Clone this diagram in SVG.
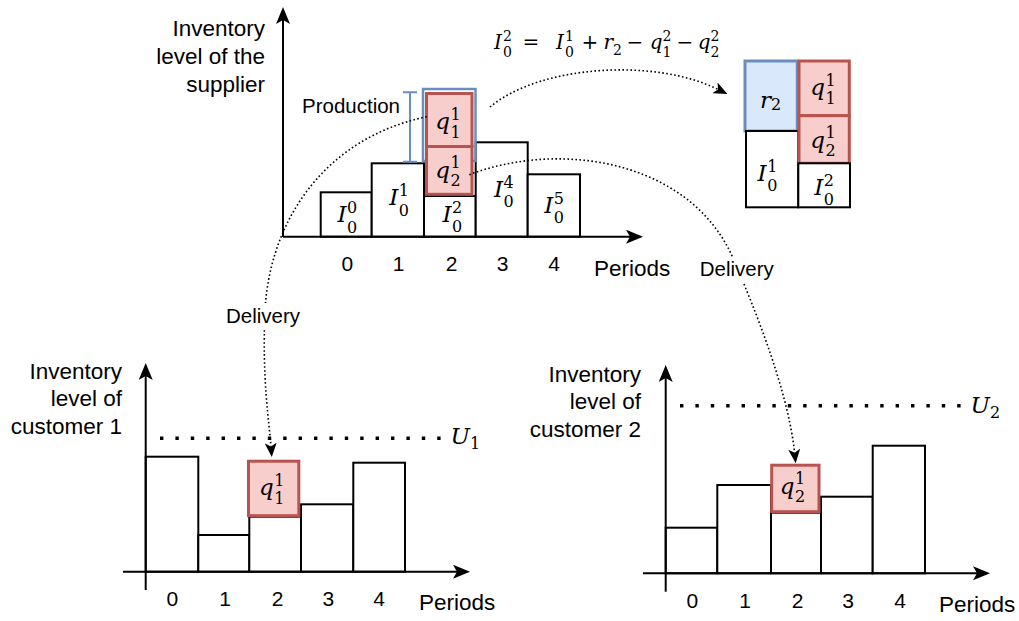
<svg xmlns="http://www.w3.org/2000/svg" width="1019" height="621" viewBox="0 0 1019 621">
<style>
.bar{fill:#fff;stroke:#000;stroke-width:2}
.red{fill:#f8cecc;stroke:#b85450;stroke-width:3}
.blue{fill:#dae8fc;stroke:#6c8ebf;stroke-width:3}
.ax{fill:none;stroke:#000;stroke-width:2}
.dot{fill:none;stroke:#000;stroke-width:1.6;stroke-dasharray:1.6 2.4}
.lim{fill:none;stroke:#000;stroke-width:3.4;stroke-dasharray:3.4 12}
.lbl{font-family:"Liberation Sans",Arial,sans-serif;font-size:22.5px;fill:#000}
.tick{font-family:"Liberation Sans",Arial,sans-serif;font-size:21px;fill:#000;text-anchor:middle}
.sm{font-family:"Liberation Sans",Arial,sans-serif;font-size:20.5px;fill:#000}
.mi{font-family:"DejaVu Serif",serif;font-style:italic;font-size:23px;fill:#000;text-anchor:end}
.ms{font-family:"DejaVu Serif",serif;font-size:16px;fill:#000}
.fi{font-family:"DejaVu Serif",serif;font-style:italic;font-size:20px;fill:#000;text-anchor:end}
.fo{font-family:"DejaVu Serif",serif;font-size:20px;fill:#000;text-anchor:middle}
.fs{font-family:"DejaVu Serif",serif;font-size:14px;fill:#000}
</style>
<defs>
<marker id="axh" markerUnits="userSpaceOnUse" viewBox="0 0 17 14" markerWidth="17" markerHeight="14" refX="4" refY="7" orient="auto"><path d="M0,0 L17,7 L0,14 L4,7 z" fill="#000"/></marker>
<marker id="arh" markerUnits="userSpaceOnUse" viewBox="0 0 14 12" markerWidth="14" markerHeight="12" refX="3.5" refY="6" orient="auto"><path d="M0,0 L14,6 L0,12 L3.5,6 z" fill="#000"/></marker>
</defs>

<!-- Supplier chart -->
<g id="supplier-label">
<text class="lbl" text-anchor="end" x="265" y="36">Inventory</text>
<text class="lbl" text-anchor="end" x="265" y="64">level of the</text>
<text class="lbl" text-anchor="end" x="265" y="92">supplier</text>
</g>
<g id="s-bar0"><rect class="bar" x="320.7" y="192.3" width="51" height="44.4"/>
<text class="mi" x="346.5" y="222">I</text><text class="ms" x="347" y="213">0</text><text class="ms" x="347" y="232.5">0</text></g>
<g id="s-bar1"><rect class="bar" x="371.7" y="163.3" width="52.3" height="73.4"/>
<text class="mi" x="398.3" y="205">I</text><text class="ms" x="398.8" y="196">1</text><text class="ms" x="398.8" y="215.5">0</text></g>
<g id="s-bar2"><rect class="bar" x="424" y="196" width="51.7" height="40.7"/>
<text class="mi" x="451.5" y="222">I</text><text class="ms" x="452" y="213">2</text><text class="ms" x="452" y="232">0</text></g>
<g id="s-bar3"><rect class="bar" x="475.7" y="142.3" width="52" height="94.4"/>
<text class="mi" x="503" y="196.7">I</text><text class="ms" x="503.5" y="187.7">4</text><text class="ms" x="503.5" y="207">0</text></g>
<g id="s-bar4"><rect class="bar" x="527.7" y="174.3" width="52.3" height="62.4"/>
<text class="mi" x="553.3" y="212.7">I</text><text class="ms" x="553.8" y="203.7">5</text><text class="ms" x="553.8" y="223">0</text></g>
<g id="s-production-box"><rect x="423" y="89" width="52.5" height="72" fill="none" stroke="#6c8ebf" stroke-width="2.5"/></g>
<g id="s-q1"><rect class="red" x="426.5" y="93.5" width="45.5" height="53"/>
<text class="mi" x="450" y="129">q</text><text class="ms" x="450.5" y="119.5">1</text><text class="ms" x="450.5" y="137.5">1</text></g>
<g id="s-q2"><rect class="red" x="426.5" y="146.5" width="45.5" height="47.8"/>
<text class="mi" x="450" y="177.6">q</text><text class="ms" x="450.5" y="168">1</text><text class="ms" x="450.5" y="186">2</text></g>
<g id="production">
<path d="M403,92.3 H417 M410,92.3 V161.7 M403,161.7 H417" fill="none" stroke="#6c8ebf" stroke-width="2"/>
<text class="sm" x="302" y="113">Production</text>
</g>
<g id="s-ticks">
<text class="tick" x="347.3" y="271">0</text><text class="tick" x="398.7" y="271">1</text><text class="tick" x="451.7" y="271">2</text><text class="tick" x="502.7" y="271">3</text><text class="tick" x="554" y="271">4</text>
<text class="lbl" x="594" y="276">Periods</text>
</g>

<!-- Formula -->
<g id="formula">
<text class="fi" x="502" y="49">I</text><text class="fs" x="503" y="40.5">2</text><text class="fs" x="503" y="56.5">0</text>
<text class="fo" x="531" y="49">=</text>
<text class="fi" x="564" y="49">I</text><text class="fs" x="565" y="40.5">1</text><text class="fs" x="565" y="56.5">0</text>
<text class="fo" x="590" y="49">+</text>
<text class="fi" x="613" y="49">r</text><text class="fs" x="613" y="55">2</text>
<text class="fo" x="635" y="49">−</text>
<text class="fi" x="662.5" y="49">q</text><text class="fs" x="662.5" y="40.5">2</text><text class="fs" x="662.5" y="56.5">1</text>
<text class="fo" x="685" y="49">−</text>
<text class="fi" x="710.5" y="49">q</text><text class="fs" x="710.5" y="40.5">2</text><text class="fs" x="710.5" y="56.5">2</text>
</g>

<!-- Right stack -->
<g id="r-r2"><rect class="blue" x="745" y="61" width="52.3" height="70"/>
<text class="mi" x="771" y="108">r</text><text class="ms" x="771" y="110">2</text></g>
<g id="r-I1"><rect class="bar" x="746" y="131" width="52.3" height="76.3"/>
<text class="mi" x="766.7" y="180.7">I</text><text class="ms" x="767.2" y="171.7">1</text><text class="ms" x="767.2" y="191">0</text></g>
<g id="r-q1"><rect class="red" x="799" y="61" width="50.3" height="54.7"/>
<text class="mi" x="825" y="95">q</text><text class="ms" x="825.5" y="85.5">1</text><text class="ms" x="825.5" y="103.5">1</text></g>
<g id="r-q2"><rect class="red" x="799" y="115.7" width="50.3" height="47.6"/>
<text class="mi" x="825" y="147.5">q</text><text class="ms" x="825.5" y="138">1</text><text class="ms" x="825.5" y="156">2</text></g>
<g id="r-I2"><rect class="bar" x="798.3" y="163.3" width="51.7" height="44"/>
<text class="mi" x="823.3" y="194.7">I</text><text class="ms" x="823.8" y="185.7">2</text><text class="ms" x="823.8" y="205">0</text></g>

<!-- Customer 1 chart -->
<g id="c1-label">
<text class="lbl" text-anchor="end" x="122" y="379">Inventory</text>
<text class="lbl" text-anchor="end" x="122" y="406">level of</text>
<text class="lbl" text-anchor="end" x="122" y="434">customer 1</text>
</g>
<g id="c1-bars">
<rect class="bar" x="145.7" y="456.7" width="52.6" height="115"/>
<rect class="bar" x="198.3" y="535" width="51" height="36.7"/>
<rect class="bar" x="249.3" y="516.7" width="51.7" height="55"/>
<rect class="bar" x="301" y="504.3" width="52.3" height="67.4"/>
<rect class="bar" x="353.3" y="462.7" width="51.7" height="109"/>
</g>
<g id="c1-q1"><rect class="red" x="248.5" y="461.2" width="50.3" height="54.5"/>
<text class="mi" x="273.8" y="495">q</text><text class="ms" x="274.3" y="485.5">1</text><text class="ms" x="274.3" y="503.5">1</text></g>
<g id="c1-ticks">
<text class="tick" x="172.3" y="606">0</text><text class="tick" x="225" y="606">1</text><text class="tick" x="277.7" y="606">2</text><text class="tick" x="328.3" y="606">3</text><text class="tick" x="379" y="606">4</text>
<text class="lbl" x="419" y="610">Periods</text>
</g>
<g id="c1-U"><text class="mi" x="470" y="444">U</text><text class="ms" x="470" y="449">1</text></g>

<!-- Customer 2 chart -->
<g id="c2-label">
<text class="lbl" text-anchor="end" x="641" y="381.5">Inventory</text>
<text class="lbl" text-anchor="end" x="641" y="409">level of</text>
<text class="lbl" text-anchor="end" x="641" y="436.5">customer 2</text>
</g>
<g id="c2-bars">
<rect class="bar" x="665.7" y="527.7" width="51.6" height="45.6"/>
<rect class="bar" x="717.3" y="485" width="53.7" height="88.3"/>
<rect class="bar" x="771" y="512.7" width="50" height="60.6"/>
<rect class="bar" x="821" y="496.7" width="51.7" height="76.6"/>
<rect class="bar" x="872.7" y="445.7" width="52.3" height="127.6"/>
</g>
<g id="c2-q2"><rect class="red" x="771.7" y="465.2" width="47.3" height="46.5"/>
<text class="mi" x="794.5" y="493.6">q</text><text class="ms" x="795" y="484">1</text><text class="ms" x="795" y="502">2</text></g>
<g id="c2-ticks">
<text class="tick" x="692.3" y="607.5">0</text><text class="tick" x="745" y="607.5">1</text><text class="tick" x="797.7" y="607.5">2</text><text class="tick" x="848" y="607.5">3</text><text class="tick" x="900" y="607.5">4</text>
<text class="lbl" x="939" y="612">Periods</text>
</g>
<g id="c2-U"><text class="mi" x="990" y="413">U</text><text class="ms" x="990" y="417.5">2</text></g>

<!-- Connectors -->
<g id="connectors">
<path class="ax" d="M283,237 V20" marker-end="url(#axh)"/>
<path class="ax" d="M283,236.7 H630" marker-end="url(#axh)"/>
<path class="ax" d="M145.7,590 V376" marker-end="url(#axh)"/>
<path class="ax" d="M123,571.7 H457" marker-end="url(#axh)"/>
<path class="ax" d="M665.7,591.7 V378" marker-end="url(#axh)"/>
<path class="ax" d="M643,573.3 H977" marker-end="url(#axh)"/>
<path class="lim" d="M160,438.3 H445"/>
<path class="lim" d="M680,405.7 H965"/>
<path class="dot" d="M490,107 C540,65 655,58 718,89.4" marker-end="url(#arh)"/>
<path class="dot" d="M426.7,116.7 C325,138 270,220 265,310 C262,380 269,420 271,446.5" marker-end="url(#arh)"/>
<path class="dot" d="M469.3,174.7 C560,140 690,160 733,258 C754,307 788,390 794.6,452.7" marker-end="url(#arh)"/>
</g>

<g id="delivery-labels">
<rect x="224" y="303" width="78" height="25" fill="#fff"/>
<text class="sm" text-anchor="middle" x="263" y="322.5">Delivery</text>
<rect x="698" y="257" width="78" height="25" fill="#fff"/>
<text class="sm" text-anchor="middle" x="736.7" y="276">Delivery</text>
</g>
</svg>
